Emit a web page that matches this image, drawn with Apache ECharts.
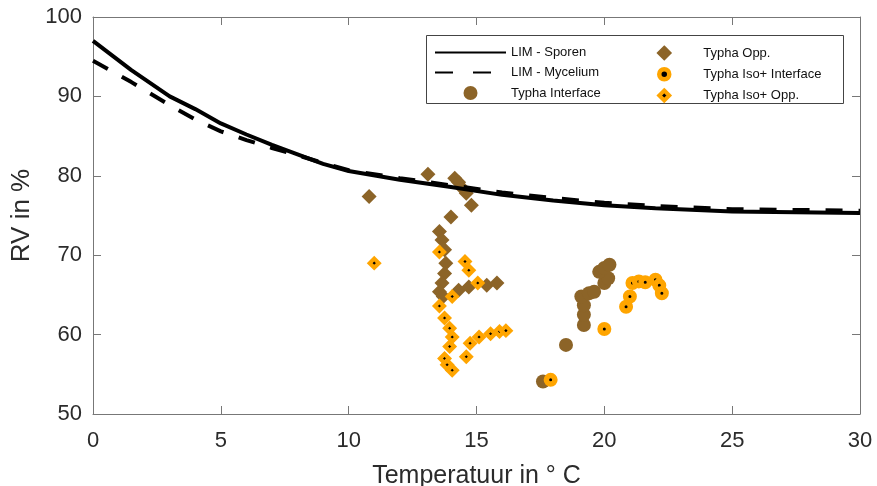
<!DOCTYPE html>
<html>
<head>
<meta charset="utf-8">
<script src="https://cdn.jsdelivr.net/npm/echarts@6/dist/echarts.min.js"></script>
<style>
  html, body { margin: 0; padding: 0; background: #fff; }
  #main { width: 877px; height: 486px; }
</style>
</head>
<body>
<div id="main"></div>
<script>
// LIM curves
var limX = [0, 1.5, 3, 4, 5, 6, 7, 8, 9, 10, 12, 14, 16, 18, 20, 22, 25, 30];
var sporen = [97, 93.3, 90, 88.4, 86.6, 85.2, 83.9, 82.7, 81.5, 80.6, 79.5, 78.6, 77.6, 76.9, 76.3, 75.9, 75.5, 75.3];
var mycelium = [94.5, 91.8, 88.9, 87.1, 85.6, 84.5, 83.5, 82.6, 81.6, 80.7, 79.7, 78.8, 77.9, 77.2, 76.6, 76.2, 75.8, 75.6];

// measurements [temperatuur, RV]
var typhaInterface = [[17.6, 54.1], [18.5, 58.7], [19.2, 61.2], [19.2, 62.5], [19.2, 63.7], [19.1, 64.8], [19.4, 65.2],
  [19.6, 65.4], [20.0, 66.5], [20.15, 67.1], [19.8, 67.9], [20.0, 68.4], [20.2, 68.8]];
var typhaOpp = [[10.8, 77.4], [13.1, 80.2], [14.15, 79.7], [14.3, 79.2], [14.4, 78.6], [14.6, 77.8], [14.8, 76.3],
  [14.0, 74.8], [13.55, 73.0], [13.65, 71.9], [13.75, 70.7], [13.8, 69.0], [13.75, 67.7], [13.65, 66.5],
  [13.55, 65.4], [13.7, 64.8], [14.3, 65.6], [14.7, 66.0], [15.4, 66.2], [15.8, 66.5]];
var isoInterface = [[17.9, 54.3], [20.0, 60.7], [20.85, 63.5], [21.0, 64.8], [21.1, 66.5], [21.35, 66.7],
  [21.6, 66.6], [22.0, 66.9], [22.15, 66.2], [22.25, 65.2]];
var isoOpp = [[11.0, 69.0], [13.55, 70.4], [14.55, 69.2], [14.7, 68.1], [15.05, 66.5], [14.05, 64.8], [13.55, 63.6],
  [13.75, 62.1], [13.95, 60.8], [14.05, 59.7], [13.95, 58.5], [13.75, 57.0], [13.85, 56.2], [14.05, 55.5],
  [14.6, 57.2], [14.75, 58.9], [15.1, 59.7], [15.55, 60.1], [15.9, 60.4], [16.15, 60.5]];

var xTicks = [0, 5, 10, 15, 20, 25, 30];
var yTicks = [50, 60, 70, 80, 90, 100];

var brown = '#8c6428';
var orange = '#ffa500';
var axisCol = '#777';
var font = 'Liberation Sans, Arial, sans-serif';

function pairs(xs, ys) {
  var out = [];
  for (var i = 0; i < xs.length; i++) out.push([xs[i], ys[i]]);
  return out;
}

function axisBase(show) {
  return {
    type: 'value',
    axisLine: { show: true, onZero: false, lineStyle: { color: axisCol, width: 1 } },
    axisTick: { show: true, inside: true, length: 8, lineStyle: { color: axisCol } },
    axisLabel: { show: show, color: '#2b2b2b', fontSize: 22, fontFamily: font },
    splitLine: { show: false }
  };
}

var xBottom = axisBase(true);
xBottom.min = xTicks[0]; xBottom.max = xTicks[xTicks.length - 1]; xBottom.interval = 5;
xBottom.position = 'bottom';
xBottom.axisLabel.margin = 16;
xBottom.name = 'Temperatuur in \u00b0 C';
xBottom.nameLocation = 'middle';
xBottom.nameGap = 50;
xBottom.nameTextStyle = { color: '#2b2b2b', fontSize: 25, fontFamily: font };

var xTop = axisBase(false);
xTop.min = xTicks[0]; xTop.max = xTicks[xTicks.length - 1]; xTop.interval = 5;
xTop.position = 'top';

var yLeft = axisBase(true);
yLeft.min = yTicks[0]; yLeft.max = yTicks[yTicks.length - 1]; yLeft.interval = 10;
yLeft.position = 'left';
yLeft.axisLabel.margin = 11;
yLeft.name = 'RV in %';
yLeft.nameLocation = 'middle';
yLeft.nameGap = 55;
yLeft.nameTextStyle = { color: '#2b2b2b', fontSize: 26, fontFamily: font };

var yRight = axisBase(false);
yRight.min = yTicks[0]; yRight.max = yTicks[yTicks.length - 1]; yRight.interval = 10;
yRight.position = 'right';

var legendText = { fontSize: 13, color: '#111', fontFamily: font };
var noDot = { opacity: 0 };

var option = {
  animation: false,
  backgroundColor: '#fff',
  grid: { left: 93, right: 17, top: 17, bottom: 72, outerBoundsMode: 'none' },
  xAxis: [xBottom, xTop],
  yAxis: [yLeft, yRight],
  graphic: [{
    type: 'rect', left: 426, top: 35, z: 0,
    shape: { width: 417, height: 68 },
    style: { fill: '#fff', stroke: '#444', lineWidth: 1 }
  }],
  legend: [{
    orient: 'vertical', left: 429, top: 41, itemWidth: 71, itemHeight: 14, itemGap: 7,
    textStyle: legendText, z: 5,
    data: [
      { name: 'LIM - Sporen', itemStyle: noDot },
      { name: 'LIM - Mycelium', itemStyle: noDot, lineStyle: { type: [18, 20] } },
      { name: 'Typha Interface' }
    ]
  }, {
    orient: 'vertical', left: 652, top: 41, itemWidth: 10, itemHeight: 10, itemGap: 7,
    textStyle: { fontSize: 13, color: '#111', fontFamily: font, padding: [0, 0, 0, 29] }, z: 5,
    data: [
      { name: 'Typha Opp.', itemStyle: { borderColor: brown, borderWidth: 4 } },
      { name: 'Typha Iso+ Interface', itemStyle: { borderWidth: 4.5 } },
      { name: 'Typha Iso+ Opp.', itemStyle: { borderWidth: 4 } }
    ]
  }],
  series: [
    {
      name: 'LIM - Sporen', type: 'line', data: pairs(limX, sporen),
      showSymbol: false, symbol: 'none', lineStyle: { color: '#000', width: 4 }, itemStyle: { color: '#000' }
    },
    {
      name: 'LIM - Mycelium', type: 'line', data: pairs(limX, mycelium),
      showSymbol: false, symbol: 'none', lineStyle: { color: '#000', width: 4, type: [17, 16] }, itemStyle: { color: '#000' }
    },
    {
      name: 'Typha Interface', type: 'scatter', data: typhaInterface,
      symbol: 'circle', symbolSize: 14, itemStyle: { color: brown, opacity: 1 }
    },
    {
      name: 'Typha Opp.', type: 'scatter', data: typhaOpp,
      symbol: 'diamond', symbolSize: 15, itemStyle: { color: brown, opacity: 1 }
    },
    {
      name: 'Typha Iso+ Interface', type: 'scatter', data: isoInterface,
      symbol: 'circle', symbolSize: 8.5,
      itemStyle: { color: '#000', borderColor: orange, borderWidth: 5.5, opacity: 1 }
    },
    {
      name: 'Typha Iso+ Opp.', type: 'scatter', data: isoOpp,
      symbol: 'diamond', symbolSize: 9,
      itemStyle: { color: '#000', borderColor: orange, borderWidth: 4.2, opacity: 1 }
    }
  ]
};

echarts.init(document.getElementById('main')).setOption(option);
</script>
</body>
</html>
